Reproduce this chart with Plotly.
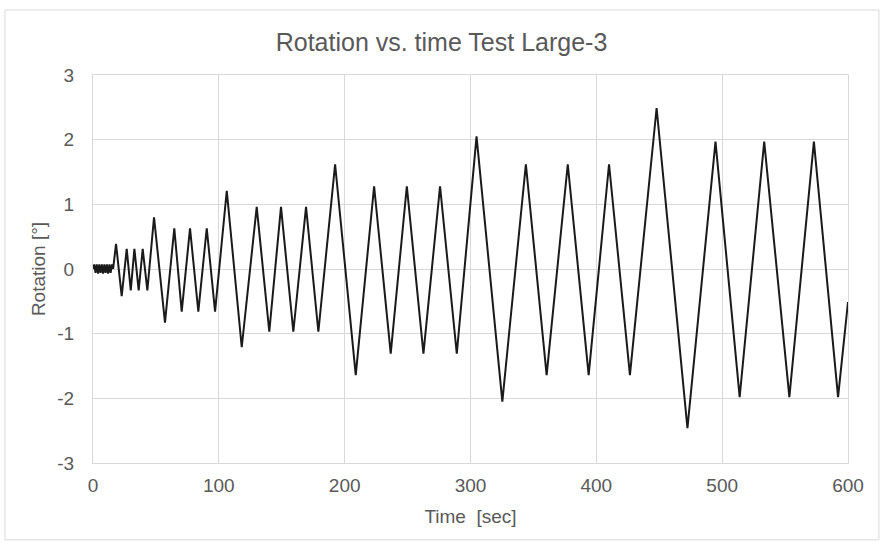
import plotly.graph_objects as go

# Time [sec] and rotation [deg]
time_s = [0, 1, 2, 3, 4, 5, 6, 7, 8, 9, 10, 11, 12, 13, 14, 15, 16,
          18.3, 22.8, 26.8, 30.0, 32.9, 36.3, 39.5, 43.2,
          48.5, 57.2, 64.6, 70.5, 77.1, 83.7, 90.4, 97.0,
          106.3, 118.2, 130.1, 140.1, 149.4, 159.2, 169.3, 179.1,
          192.4, 208.8, 223.4, 236.6, 249.4, 262.6, 275.8, 289.1,
          304.8, 325.3, 344.0, 360.5, 377.3, 393.9, 410.1, 426.7,
          447.9, 472.4, 494.7, 513.9, 533.4, 553.4, 572.9, 592.1, 600.0]
rotation = [0.0, 0.07, -0.06, 0.07, -0.07, 0.07, -0.06, 0.07, -0.07, 0.07, -0.06, 0.07, -0.07, 0.07, -0.06, 0.07, 0.0,
            0.39, -0.42, 0.31, -0.33, 0.31, -0.33, 0.31, -0.33,
            0.80, -0.83, 0.63, -0.66, 0.63, -0.66, 0.63, -0.66,
            1.21, -1.21, 0.96, -0.97, 0.96, -0.97, 0.96, -0.97,
            1.62, -1.64, 1.28, -1.31, 1.28, -1.31, 1.28, -1.31,
            2.05, -2.05, 1.62, -1.64, 1.62, -1.64, 1.62, -1.64,
            2.49, -2.46, 1.97, -1.98, 1.97, -1.98, 1.97, -1.98, -0.51]

x_ticks = [0, 100, 200, 300, 400, 500, 600]
y_ticks = [-3, -2, -1, 0, 1, 2, 3]
y_tick_labels = ["-3", "-2", "-1", "0", "1", "2", "3"]

FONT = "Liberation Sans, Arial, sans-serif"
GRAY = "#595959"

fig = go.Figure()
fig.add_trace(go.Scatter(x=time_s, y=rotation, mode="lines",
                         line=dict(color="#1a1a1a", width=2),
                         showlegend=False))

fig.update_layout(
    width=883, height=543,
    margin=dict(l=93, r=35, t=75, b=80),
    paper_bgcolor="white", plot_bgcolor="white",
    title=dict(text="Rotation vs. time Test Large-3", x=0.5, xanchor="center",
               y=0.922, yanchor="middle",
               font=dict(family=FONT, size=25, color=GRAY)),
    font=dict(family=FONT, color=GRAY),
    xaxis=dict(range=[0, 600], tickvals=x_ticks, showgrid=True,
               gridcolor="#d9d9d9", gridwidth=1, zeroline=False,
               showline=True, linecolor="#d9d9d9", mirror=True,
               ticks="", tickfont=dict(size=19, color=GRAY), ticklabelstandoff=5,
               title=dict(text="Time  [sec]", font=dict(size=19, color=GRAY), standoff=14)),
    yaxis=dict(range=[-3, 3], tickvals=y_ticks, ticktext=y_tick_labels, showgrid=True,
               gridcolor="#d9d9d9", gridwidth=1, zeroline=False,
               showline=True, linecolor="#d9d9d9", mirror=True,
               ticks="", tickfont=dict(size=19, color=GRAY), ticklabelstandoff=14,
               title=dict(text="Rotation [°]", font=dict(size=19, color=GRAY), standoff=6)),
    shapes=[dict(type="rect", xref="paper", yref="paper",
                 x0=-0.1166, x1=1.041, y0=-0.198, y1=1.1675,
                 line=dict(color="#d9d9d9", width=1), layer="below")],
)

fig.write_html("out.html")
